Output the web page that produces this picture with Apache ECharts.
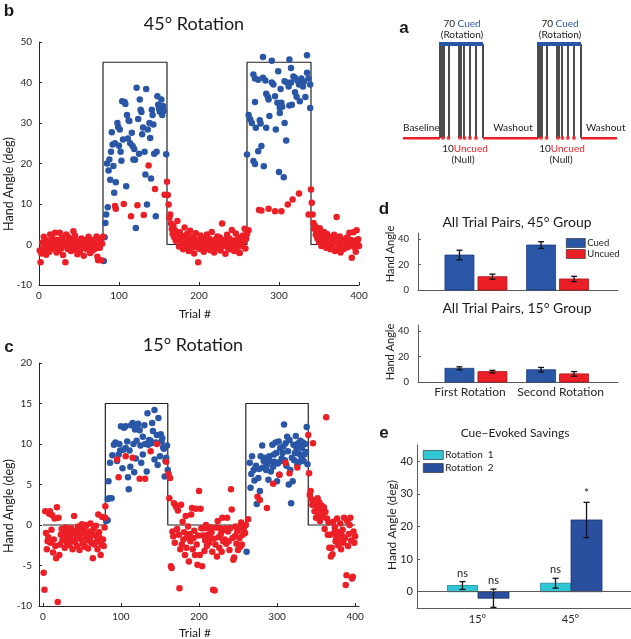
<!DOCTYPE html>
<html><head><meta charset="utf-8">
<script src="https://cdn.jsdelivr.net/npm/echarts@6/dist/echarts.min.js"></script>
<style>html,body{margin:0;padding:0;background:#fff}#c{width:631px;height:639px}</style>
</head><body><div id="c"></div>
<script>
// ---------------- DATA ----------------
// Rotation schedule (trial #, imposed rotation)
const schedTrials = [0,80,80,160,160,260,260,340,340,400];
const sched45 = [0,0,45,45,0,0,45,45,0,0];
const sched15 = [0,0,15,15,0,0,15,15,0,0];
const BASE_START = 1, WASH1_START = 161, WASH2_START = 341;

// Panel b (45 deg): null trials outside rotation blocks (per trial)
const bBase = [-1.5,-4.4,-2.2,0.5,-0.8,1.9,-1.2,0.3,-2.5,1.0,
 -0.5,0.8,-1.8,2.5,0.2,-0.6,1.4,-1.0,0.6,2.9,
 -0.3,-2.0,1.2,0.4,-1.4,2.9,0.1,-0.9,1.6,-2.6,
 0.7,-0.2,-4.4,2.5,0.3,-1.1,1.8,-0.7,0.9,-1.6,
 0.2,1.3,3.3,-0.4,2.2,-1.3,0.6,-2.4,1.0,-0.1,
 -1.7,0.8,1.5,-0.9,0.3,-2.8,1.1,-0.5,0.7,-1.2,
 0.0,1.9,-0.6,-2.1,0.9,0.4,-1.5,1.2,-0.3,0.6,
 -1.0,2.0,-3.0,-3.9,0.5,-0.8,1.4,-3.9,0.2,1.9];
const bWash1 = [12.2,9.9,6.6,7.4,5.2,3.8,2.6,4.6,1.8,3.5,
 0.9,2.4,5.8,1.2,-0.5,3.0,1.6,0.4,2.1,-1.2,
 0.8,4.2,1.5,-0.3,2.6,0.2,-1.6,1.1,3.4,0.5,
 -0.8,1.9,0.0,-2.2,1.3,2.8,-0.6,0.7,-4.4,1.0,
 -1.1,2.2,0.3,-0.4,1.6,-1.8,0.9,0.1,-0.9,2.5,
 0.6,-0.2,1.4,-1.4,0.3,3.1,-0.7,0.8,-2.0,1.2,
 0.0,-1.0,2.0,0.4,-0.5,1.7,-1.5,0.2,5.2,0.9,
 -0.3,1.1,-2.3,0.6,2.4,-0.8,0.3,1.5,-1.2,0.7,
 3.6,-0.1,1.0,-1.6,0.4,2.7,-0.9,1.3,0.1,-2.0,
 -2.1,1.8,0.5,-0.4,2.2,0.8,3.9,-1.0,1.4,2.6];
const bWash2 = [10.3,7.4,5.3,3.9,4.6,2.4,3.2,1.5,2.8,0.6,
 4.0,1.8,-0.4,2.2,0.9,3.1,0.3,1.4,-0.8,2.6,
 0.5,1.3,1.1,-1.2,0.2,1.9,-0.5,1.0,2.4,-1.6,
 0.7,6.8,1.6,-0.9,0.4,2.0,-2.0,0.8,-0.3,1.2,
 -1.1,0.1,0.9,0.6,1.7,-0.7,0.3,2.9,-0.2,1.1,
 -3.3,0.5,3.0,-0.6,0.9,-1.8,3.5,0.2,1.3,-0.4];
// Panel b rotation blocks: [trial, hand angle]
const bCued = [[81,-4.1],[82,1.8],[83,5.3],[84,7.4],[85,20.0],[86,9.2],[87,18.3],[88,21.0],[89,16.0],[90,22.9],
 [91,27.7],[92,24.7],[93,19.4],[94,12.8],[95,25.0],[96,15.4],[98,30.0],[99,29.0],[100,24.4],[101,28.4],
 [102,22.9],[103,20.7],[104,35.4],[105,25.9],[107,35.2],[108,34.7],[109,14.4],[110,32.0],[111,26.2],[112,30.6],
 [113,30.5],[114,25.0],[116,27.6],[117,24.3],[118,21.0],[119,23.6],[120,20.9],[121,4.1],[122,38.7],[124,31.0],
 [125,22.4],[126,35.8],[127,33.3],[128,32.7],[129,27.2],[130,28.9],[132,22.9],[133,17.3],[134,38.4],[135,9.9],
 [136,28.4],[138,30.0],[139,26.3],[140,16.3],[141,33.3],[142,32.0],[143,29.6],[144,22.4],[146,7.0],[147,22.9],
 [148,36.6],[149,34.5],[150,33.5],[151,32.8],[152,33.0],[153,35.8],[154,32.0],[155,34.2],[156,33.0],[159,22.3]];
const bUncued = [[95,9.5],[96,8.8],[106,10.0],[115,7.0],[123,9.7],[131,7.3],[137,19.5],[145,13.7],[157,12.3],[160,15.5],
 [262,3.5],[275,8.5],[278,8.4],[287,8.8],[295,8.2],[303,8.2],[311,9.9],[317,11.1],[325,12.6],[337,7.4],[340,13.6]];
const bCued2 = [[260,22.2],[262,32.0],[264,30.9],[266,30.0],[268,42.0],[268,20.6],[270,41.0],[270,35.2],[270,19.9],[271,28.8],
 [274,23.0],[274,40.7],[276,30.7],[277,29.9],[278,24.3],[280,46.3],[280,41.2],[281,19.3],[283,40.5],[284,37.2],
 [284,28.8],[286,36.5],[287,35.8],[288,31.7],[291,45.4],[291,40.0],[293,39.5],[295,36.6],[296,28.4],[298,35.0],
 [299,42.8],[300,17.9],[301,33.7],[301,32.5],[302,38.4],[303,35.0],[304,34.0],[306,16.6],[307,40.3],[307,30.0],
 [309,25.7],[310,40.0],[312,39.0],[313,45.7],[313,34.3],[315,43.6],[315,40.0],[316,34.5],[318,41.5],[320,41.2],
 [320,37.6],[322,36.5],[323,40.5],[325,39.5],[326,40.0],[326,35.4],[328,41.0],[330,39.0],[331,40.2],[333,36.4],
 [335,46.7],[335,42.4],[337,41.0],[339,39.5],[339,33.7]];

// Panel c (15 deg)
const cBase = [-5.9,-8.0,1.7,-1.0,-3.0,-2.0,-1.5,1.4,1.7,-2.2,
 -0.6,1.2,-3.4,-1.8,0.8,-2.6,-4.1,2.2,-9.5,0.9,
 -3.7,-2.4,-1.2,-0.5,-1.9,-0.9,-1.4,-2.8,-0.3,-1.1,
 -2.2,-1.6,-0.8,-2.5,-1.3,-0.4,-1.9,-3.0,-1.0,1.1,
 -2.1,-0.7,-1.5,-2.6,-0.2,-1.2,-3.1,-0.6,-1.8,0.1,
 -2.3,-1.0,-0.4,-2.7,-1.4,0.0,-1.9,-2.9,-0.8,-1.6,
 0.2,-2.2,-1.1,-4.1,-0.5,-2.4,-1.3,-0.1,-2.0,-3.0,
 1.3,-0.9,-1.6,-3.7,-2.4,1.0,-1.8,-2.6,-0.3,0.9];
const cWash1 = [6.3,3.3,5.8,-5.1,-5.3,-0.8,-1.4,2.7,-2.2,2.4,
 2.2,-0.5,1.8,-1.2,-7.8,-3.0,2.5,-2.4,0.4,-1.8,
 -0.9,-3.7,1.1,-2.8,-1.5,-0.2,-4.5,-1.1,-2.0,1.3,
 2.1,-3.0,-1.6,-0.7,-3.7,2.0,-2.4,-4.9,-1.3,4.2,
 -3.7,2.0,-0.4,-5.1,-1.3,-0.4,-3.2,-1.9,0.0,-2.6,
 -1.2,-0.4,-2.2,-1.5,-0.3,-0.9,-3.3,-8.0,-1.7,-8.1,
 -2.4,-0.3,-3.9,0.5,-1.5,-2.8,-0.4,-1.1,-3.3,0.9,
 -2.0,-0.6,-1.8,-0.4,-2.3,0.9,-0.8,-2.0,-3.1,-0.4,
 4.4,1.9,-1.6,-4.3,-4.0,-1.4,-0.2,-2.3,-0.8,-3.1,
 -0.4,-1.6,-2.7,0.3,-2.4,-1.2,-0.6,-0.2,-1.0,0.0];
const cWash2 = [6.4,3.7,4.2,3.2,2.5,10.1,3.0,1.7,2.6,0.9,
 2.1,3.3,1.2,2.8,0.5,1.9,2.4,1.5,1.0,2.2,
 -0.5,1.6,13.3,0.8,-1.2,0.3,-2.8,-1.2,-3.9,-2.8,
 -3.6,0.4,-1.0,-0.3,-2.0,-1.5,0.8,-2.5,-0.9,-1.8,
 0.2,-3.0,-1.3,-0.6,-2.2,0.9,-1.6,-7.4,-6.2,0.45,
 -2.6,-1.1,0.0,0.9,-1.9,-6.6,-6.4,-0.8,-2.2,-1.4];
const cCued = [[81,0.5],[83,0.6],[83,3.2],[85,3.3],[88,3.3],[84,5.4],[86,7.7],[89,8.6],[91,9.9],[93,10.2],
 [95,7.9],[97,8.7],[98,10.0],[99,9.2],[100,12.2],[102,7.0],[103,9.3],[104,12.0],[106,9.5],[106,12.2],
 [108,10.3],[109,5.9],[110,4.4],[111,9.2],[112,7.2],[113,12.3],[115,12.6],[116,10.0],[117,6.5],[118,11.8],
 [119,8.2],[120,10.4],[121,12.1],[122,12.5],[124,11.7],[125,9.8],[126,7.7],[128,8.7],[128,10.9],[130,12.3],
 [131,10.0],[133,6.6],[134,13.8],[135,9.9],[136,10.5],[138,10.4],[139,10.1],[140,12.6],[141,11.6],[143,14.2],
 [143,8.1],[145,10.2],[146,11.1],[147,7.4],[148,13.2],[150,8.5],[151,11.2],[152,10.3],[153,10.7],[154,9.6],
 [155,9.4],[156,6.0],[157,7.9],[158,8.3],[159,9.8],[160,6.8],
 [261,-3.3],[265,7.7],[266,4.6],[267,6.3],[268,8.5],[270,6.8],[271,5.5],[272,7.0],[273,7.3],[274,2.6],
 [276,5.8],[277,6.9],[278,4.2],[279,8.5],[281,9.8],[282,7.1],[283,7.9],[285,8.3],[286,6.8],[287,7.4],
 [289,5.6],[290,8.5],[291,7.9],[292,6.6],[294,9.9],[295,7.2],[296,8.7],[297,7.8],[298,10.2],[299,8.9],
 [300,5.4],[301,7.6],[302,10.3],[303,6.2],[304,9.5],[305,7.9],[306,8.2],[307,8.9],[308,9.7],[309,12.4],
 [310,8.0],[311,10.1],[312,7.3],[313,10.9],[314,9.1],[315,5.0],[316,10.5],[317,6.8],[318,2.7],[319,8.3],
 [320,5.4],[321,9.9],[322,8.0],[323,8.9],[324,11.0],[325,9.4],[326,7.4],[327,10.1],[328,8.8],[329,7.8],
 [330,10.4],[331,8.5],[332,9.5],[333,10.2],[334,7.9],[335,8.7],[336,10.0],[337,9.0],[338,12.1],[339,7.5]];
const cUncued = [[80,2.3],[95,8.1],[97,5.9],[106,8.5],[115,8.3],[124,5.7],[131,5.7],[138,9.1],[146,10.0],[158,7.8],
 [263,0.7],[275,3.5],[278,3.1],[287,2.1],[295,5.1],[303,6.2],[311,7.7],[316,6.4],[326,7.1],[340,11.1]];

// Panel a schematic (schematic position units)
const aTotal = 214;
const aRedSegs = [[0,37],[80,135.5],[178,214]];
const aBlueSegs = [[36,80],[134,178]];
const aBlockStarts = [36,134];
const aCueLines = [1,3,5,10,20,22,24.5,31,37,43.5];
const aUncuedDots = [4,9.5,21,25.5,31,37];

// Panel d
const dCats = ['First Rotation','Second Rotation'];
const d45Cued = [27.6,35.5], d45CuedErr = [3.8,2.6];
const d45Uncued = [10.5,8.7], d45UncuedErr = [2.0,2.1];
const d15Cued = [10.8,9.7], d15CuedErr = [1.2,1.8];
const d15Uncued = [8.2,6.4], d15UncuedErr = [1.0,1.8];

// Panel e
const eCats = ['15°','45°'];
const eRot1 = [1.9,2.6], eRot1Err = [1.2,1.5], eRot1Sig = ['ns','ns'];
const eRot2 = [-2.0,22.0], eRot2Err = [2.8,5.4], eRot2Sig = ['ns','*'];

// ---------------- STYLE ----------------
const FONT = 'Lato, "Open Sans", sans-serif';
const AX = '#262626', GRAYAX = '#5a5a5a';
const BLUE = '#2a56a6', RED = '#ec1f27', CYAN = '#2fc6d6', NAVY = '#2a4f9e';

const toPts = (arr, start) => arr.map((v,i) => [start + i, v]);

function vAxis(gi, o) {
  return Object.assign({
    type:'value', gridIndex: gi,
    axisLine:{show:true,onZero:false,lineStyle:{color:o.lc||AX,width:1}},
    axisTick:{show:o.tick!==false,inside:true,length:3,lineStyle:{color:o.lc||AX}},
    axisLabel:{show:o.label!==false,color:AX,fontSize:o.fs||10,fontFamily:FONT,margin:o.margin||6,
      showMinLabel:o.showMin!==false, showMaxLabel:o.showMax!==false, formatter:o.fmt, rich:o.rich},
    splitLine:{show:false}
  }, o.extra||{});
}
const catFmt = cats => v => { const i = Math.round(v); return (Math.abs(v-i)<1e-6 && cats[i-1]) ? cats[i-1] : ''; };
// d categories: rich-text keys keep the two long labels apart
const dCatFmt = v => { const s = catFmt(dCats)(v); return s ? '{c' + Math.round(v) + '|' + s + '}' : ''; };

function barSeries(name, vals, gi, color, border, offset, width) {
  return {type:'custom', name, xAxisIndex:gi, yAxisIndex:gi, itemStyle:{color}, encode:{x:0,y:1}, z:2,
    data: vals.map((v,i)=>[i+1, v]),
    renderItem:(p,api)=>{
      const top = api.coord([api.value(0), api.value(1)]);
      const base = api.coord([api.value(0), 0]);
      return {type:'rect', shape:{x: top[0]+offset-width/2, y: Math.min(top[1],base[1]), width, height: Math.abs(base[1]-top[1])},
        style:{fill:color, stroke:border, lineWidth:0.8}};
    }};
}
function errSeries(vals, errs, gi, offset, sig) {
  return {type:'custom', xAxisIndex:gi, yAxisIndex:gi, encode:{x:0,y:1}, z:4,
    data: vals.map((v,i)=>[i+1, v, errs[i]]),
    renderItem:(p,api)=>{
      const x = api.value(0), v = api.value(1), e = api.value(2);
      const hi = api.coord([x, v+e]), lo = api.coord([x, v-e]);
      const cx = hi[0] + offset, cw = 3;
      const ls = {stroke:'#111', lineWidth:1.3};
      const ch = [
        {type:'line', shape:{x1:cx,y1:hi[1],x2:cx,y2:lo[1]}, style:ls},
        {type:'line', shape:{x1:cx-cw,y1:hi[1],x2:cx+cw,y2:hi[1]}, style:ls},
        {type:'line', shape:{x1:cx-cw,y1:lo[1],x2:cx+cw,y2:lo[1]}, style:ls}];
      if (sig) ch.push({type:'text', x:cx, y:hi[1]-3, style:{text:sig[p.dataIndex], font:(sig[p.dataIndex]==='*'?'12px ':'11px ')+FONT,
        fill:'#222', align:'center', textAlign:'center', verticalAlign:'bottom', textVerticalAlign:'bottom'}});
      return {type:'group', children: ch};
    }};
}
function txt(text, x, y, o={}) {
  return {type:'text', x, y, rotation:o.rot||0, z:10, style:{text, fill:o.color||'#1a1a1a',
    font: o.font || ('12px '+FONT), align:o.align||'center', textAlign:o.align||'center',
    verticalAlign:'middle', textVerticalAlign:'middle', rich:o.rich}};
}
const bold = '700 17px "Liberation Sans", Arial, sans-serif';

// ---------------- CHART ----------------
const chart = echarts.init(document.getElementById('c'), null, {renderer:'canvas'});
const grids = [
  {left:39, top:42, width:320, height:243},   // b
  {left:39, top:363, width:320, height:243},  // c
  {left:403, top:44, width:214, height:94},   // a
  {left:418, top:233, width:200, height:57},  // d top
  {left:418, top:325, width:200, height:57},  // d bottom
  {left:417, top:445, width:214, height:163}  // e
].map(g => Object.assign({outerBoundsMode:'none', containLabel:false}, g));

const aLines = [];
aBlockStarts.forEach(s => aCueLines.forEach(c => aLines.push({coords:[[s+c,0],[s+c,1]]})));
const aDots = [];
aBlockStarts.forEach(s => aUncuedDots.forEach(c => aDots.push([s+c,0])));

const option = {
  animation:false,
  backgroundColor:'#fff',
  grid: grids,
  xAxis: [
    vAxis(0,{extra:{min:0,max:400,interval:100}}),
    vAxis(1,{showMin:false,showMax:false,extra:{min:-5,max:405}}),
    {type:'value', gridIndex:2, min:0, max:aTotal, show:false},
    vAxis(3,{lc:GRAYAX,tick:false,label:false,extra:{min:0.29,max:2.74}}),
    vAxis(4,{lc:GRAYAX,tick:false,fs:12,margin:4,fmt:dCatFmt,
      rich:{c1:{fontSize:12,fontFamily:FONT,color:AX,padding:[0,12,0,0]},c2:{fontSize:12,fontFamily:FONT,color:AX,padding:[0,0,0,6]}},
      extra:{min:0.29,max:2.74}}),
    vAxis(5,{lc:GRAYAX,tick:false,fs:11,margin:6,fmt:catFmt(eCats),extra:{min:0.35,max:2.65}})
  ],
  yAxis: [
    vAxis(0,{margin:7,extra:{min:-10,max:50,interval:10}}),
    vAxis(1,{margin:7,extra:{min:-10,max:20,interval:5}}),
    {type:'value', gridIndex:2, min:0, max:1, show:false},
    vAxis(3,{lc:GRAYAX,fs:9.5,margin:9,showMax:false,extra:{min:0,max:45,interval:20}}),
    vAxis(4,{lc:GRAYAX,fs:9.5,margin:9,showMax:false,extra:{min:0,max:45,interval:20}}),
    vAxis(5,{lc:GRAYAX,fs:11,margin:4,showMin:false,showMax:false,extra:{min:-5,max:45}})
  ],
  legend: [
    {data:['Cued','Uncued'], orient:'vertical', left:566, top:238, itemWidth:19, itemHeight:9, itemGap:1, padding:0,
      icon:'rect', selectedMode:false, itemStyle:{borderColor:'#222',borderWidth:0.6},
      textStyle:{fontSize:9.5, fontFamily:FONT, color:'#222', padding:[0,0,0,-3]}},
    {data:['Rotation  1','Rotation  2'], orient:'vertical', left:423, top:450, itemWidth:20, itemHeight:9, itemGap:3, padding:0,
      icon:'rect', selectedMode:false, itemStyle:{borderColor:'#222',borderWidth:0.6},
      textStyle:{fontSize:10, fontFamily:FONT, color:'#222', padding:[0,0,0,-3]}}
  ],
  series: [
    // panel b
    {type:'line', xAxisIndex:0, yAxisIndex:0, data: schedTrials.map((t,i)=>[t,sched45[i]]), symbol:'none',
      lineStyle:{color:'#222',width:1.2}, z:1, silent:true},
    {type:'scatter', xAxisIndex:0, yAxisIndex:0, data: bCued.concat(bCued2), symbolSize:6.5, itemStyle:{color:BLUE,opacity:1}, z:2, silent:true},
    {type:'scatter', xAxisIndex:0, yAxisIndex:0, data: toPts(bBase,BASE_START).concat(toPts(bWash1,WASH1_START), toPts(bWash2,WASH2_START), bUncued),
      symbolSize:6.5, itemStyle:{color:RED,opacity:1}, z:3, silent:true},
    // panel c
    {type:'line', xAxisIndex:1, yAxisIndex:1, data: schedTrials.map((t,i)=>[t,sched15[i]]), symbol:'none',
      lineStyle:{color:'#222',width:1.2}, z:1, silent:true},
    {type:'scatter', xAxisIndex:1, yAxisIndex:1, data: cCued, symbolSize:6.5, itemStyle:{color:BLUE,opacity:1}, z:2, silent:true},
    {type:'scatter', xAxisIndex:1, yAxisIndex:1, data: toPts(cBase,BASE_START).concat(toPts(cWash1,WASH1_START), toPts(cWash2,WASH2_START), cUncued),
      symbolSize:6.5, itemStyle:{color:RED,opacity:1}, z:3, silent:true},
    // panel a
    {type:'lines', coordinateSystem:'cartesian2d', xAxisIndex:2, yAxisIndex:2, data:aLines, silent:true,
      lineStyle:{color:'#111',width:1.5,opacity:1}, z:1},
    {type:'lines', coordinateSystem:'cartesian2d', xAxisIndex:2, yAxisIndex:2, silent:true,
      data:aRedSegs.map(s=>({coords:[[s[0],0],[s[1],0]]})), lineStyle:{color:RED,width:3,opacity:1}, z:2},
    {type:'lines', coordinateSystem:'cartesian2d', xAxisIndex:2, yAxisIndex:2, silent:true,
      data:aBlueSegs.map(s=>({coords:[[s[0],1],[s[1],1]]})), lineStyle:{color:BLUE,width:4,opacity:1}, z:2},
    {type:'scatter', xAxisIndex:2, yAxisIndex:2, data:aDots, symbolSize:4, itemStyle:{color:RED}, z:3, silent:true},
    // panel d
    barSeries('Cued', d45Cued, 3, BLUE, '#1d3f80', -16.5, 29),
    barSeries('Uncued', d45Uncued, 3, RED, '#a81015', 16.5, 29),
    errSeries(d45Cued, d45CuedErr, 3, -16.5),
    errSeries(d45Uncued, d45UncuedErr, 3, 16.5),
    barSeries('Cued', d15Cued, 4, BLUE, '#1d3f80', -16.5, 29),
    barSeries('Uncued', d15Uncued, 4, RED, '#a81015', 16.5, 29),
    errSeries(d15Cued, d15CuedErr, 4, -16.5),
    errSeries(d15Uncued, d15UncuedErr, 4, 16.5),
    // panel e
    Object.assign(barSeries('Rotation  1', eRot1, 5, CYAN, '#1c8a96', -15, 30), {
      markLine:{silent:true, symbol:'none', label:{show:false}, lineStyle:{color:GRAYAX,width:1,type:'solid'}, data:[{yAxis:0}]}}),
    barSeries('Rotation  2', eRot2, 5, NAVY, '#1b3670', 16, 31),
    errSeries(eRot1, eRot1Err, 5, -15, eRot1Sig),
    errSeries(eRot2, eRot2Err, 5, 16, eRot2Sig)
  ],
  graphic: [
    txt('b', 9, 11, {font:bold}),
    txt('45° Rotation', 194, 24, {font:'18px '+FONT}),
    txt('Hand Angle (deg)', 9, 184, {rot:Math.PI/2, font:'12.5px '+FONT}),
    txt('Trial #', 195, 314, {font:'12px '+FONT}),
    txt('c', 9, 347, {font:bold}),
    txt('15° Rotation', 193, 345, {font:'18px '+FONT}),
    txt('Hand Angle (deg)', 9, 506, {rot:Math.PI/2, font:'12.5px '+FONT}),
    txt('Trial #', 195, 633, {font:'12px '+FONT}),
    // panel a
    txt('a', 404, 28, {font:bold}),
    txt('{k|70 }{u|Cued}', 462, 24, {font:'10px '+FONT, rich:{k:{fill:'#222',font:'10px '+FONT},u:{fill:BLUE,font:'10px '+FONT}}}),
    txt('{k|70 }{u|Cued}', 560, 24, {font:'10px '+FONT, rich:{k:{fill:'#222',font:'10px '+FONT},u:{fill:BLUE,font:'10px '+FONT}}}),
    txt('(Rotation)', 462, 35, {font:'10px '+FONT}),
    txt('(Rotation)', 560, 35, {font:'10px '+FONT}),
    txt('{k|10}{u|Uncued}', 465, 149, {font:'10px '+FONT, rich:{k:{fill:'#222',font:'10px '+FONT},u:{fill:RED,font:'10px '+FONT}}}),
    txt('{k|10}{u|Uncued}', 562, 149, {font:'10px '+FONT, rich:{k:{fill:'#222',font:'10px '+FONT},u:{fill:RED,font:'10px '+FONT}}}),
    txt('(Null)', 463, 160, {font:'10px '+FONT}),
    txt('(Null)', 561, 160, {font:'10px '+FONT}),
    txt('Baseline', 403, 128, {font:'10px '+FONT, align:'left'}),
    txt('Washout', 513, 128, {font:'10px '+FONT}),
    txt('Washout', 586, 128, {font:'10px '+FONT, align:'left'}),
    // panel d
    txt('d', 384, 209, {font:bold}),
    txt('All Trial Pairs, 45° Group', 517, 222, {font:'14px '+FONT}),
    txt('All Trial Pairs, 15° Group', 517, 308, {font:'14px '+FONT}),
    txt('Hand Angle', 390, 254, {rot:Math.PI/2, font:'11px '+FONT}),
    txt('Hand Angle', 390, 352, {rot:Math.PI/2, font:'11px '+FONT}),
    // panel e
    txt('e', 384, 433, {font:bold}),
    txt('Cue\u2212Evoked Savings', 515, 433, {font:'12px '+FONT}),
    txt('Hand Angle (deg)', 392, 525, {rot:Math.PI/2, font:'12px '+FONT})
  ]
};
chart.setOption(option);
</script></body></html>
